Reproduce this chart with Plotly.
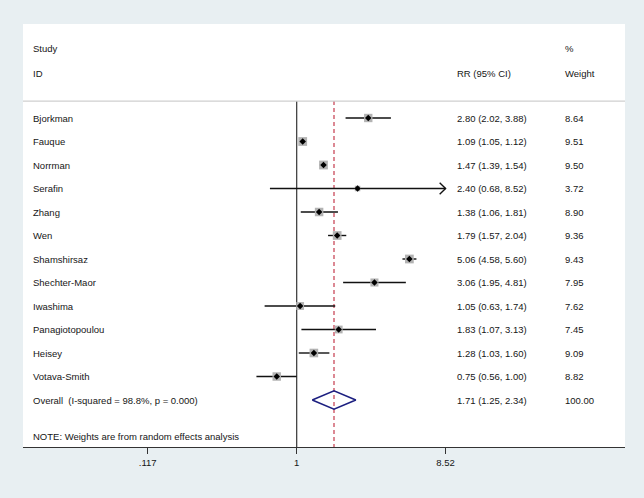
import math
import plotly.graph_objects as go

studies = ["Bjorkman", "Fauque", "Norrman", "Serafin", "Zhang", "Wen", "Shamshirsaz",
           "Shechter-Maor", "Iwashima", "Panagiotopoulou", "Heisey", "Votava-Smith"]
rr = [2.80, 1.09, 1.47, 2.40, 1.38, 1.79, 5.06, 3.06, 1.05, 1.83, 1.28, 0.75]
ci_lo = [2.02, 1.05, 1.39, 0.68, 1.06, 1.57, 4.58, 1.95, 0.63, 1.07, 1.03, 0.56]
ci_hi = [3.88, 1.12, 1.54, 8.52, 1.81, 2.04, 5.60, 4.81, 1.74, 3.13, 1.60, 1.00]
weights = [8.64, 9.51, 9.50, 3.72, 8.90, 9.36, 9.43, 7.95, 7.62, 7.45, 9.09, 8.82]
overall_rr, overall_lo, overall_hi, overall_w = 1.71, 1.25, 2.34, 100.00
overall_label = "Overall  (I-squared = 98.8%, p = 0.000)"
note_text = "NOTE: Weights are from random effects analysis"
tick_vals = [0.117, 1, 8.52]
tick_text = [".117", "1", "8.52"]

FONT = "Liberation Sans, Arial, Helvetica, sans-serif"
FS = 9.5
TXT = "#161616"

n = len(studies)
rows = list(range(n))
overall_row = n
sep_row = -0.72
bottom_row = 14.0
top_row = -4.0

fig = go.Figure()

# vertical null line and overall dashed line
fig.add_trace(go.Scatter(x=[1, 1], y=[sep_row, bottom_row], mode="lines",
                         line=dict(color="#222222", width=1.1), hoverinfo="skip", showlegend=False))
fig.add_trace(go.Scatter(x=[overall_rr, overall_rr], y=[sep_row, bottom_row], mode="lines",
                         line=dict(color="#c0283c", width=1.1, dash="4px,3px"),
                         hoverinfo="skip", showlegend=False))

# CI lines
for i in range(n):
    fig.add_trace(go.Scatter(x=[ci_lo[i], ci_hi[i]], y=[i, i], mode="lines",
                             line=dict(color="#111111", width=1.4), hoverinfo="skip", showlegend=False))
    if ci_hi[i] >= max(tick_vals):
        back = ci_hi[i] * math.exp(-0.085)
        fig.add_trace(go.Scatter(x=[back, ci_hi[i], back], y=[i - 0.24, i, i + 0.24], mode="lines",
                                 line=dict(color="#111111", width=1.4), hoverinfo="skip",
                                 showlegend=False))

# weight boxes
fig.add_trace(go.Scatter(x=rr, y=rows, mode="markers",
                         marker=dict(symbol="square", color="#b3b3b3", opacity=1,
                                     size=[2.85 * math.sqrt(w) for w in weights], line=dict(width=0)),
                         hoverinfo="skip", showlegend=False))

# point estimates
fig.add_trace(go.Scatter(x=rr, y=rows, mode="markers",
                         marker=dict(symbol="diamond", color="#000000", size=5, line=dict(width=0)),
                         hoverinfo="skip", showlegend=False))

# overall diamond
h = 0.39
fig.add_trace(go.Scatter(x=[overall_lo, overall_rr, overall_hi, overall_rr, overall_lo],
                         y=[overall_row, overall_row - h, overall_row, overall_row + h, overall_row],
                         mode="lines", line=dict(color="#1c1f80", width=1.6),
                         hoverinfo="skip", showlegend=False))

# separator line
fig.add_shape(type="line", xref="paper", yref="y", x0=0, x1=1, y0=sep_row, y1=sep_row,
              line=dict(color="#cfcfcf", width=1.2))

X_STUDY = (31 - 23) / 602
X_RR = (454.5 - 23) / 602
X_W = (562.7 - 23) / 602

def txt(x, y, s):
    fig.add_annotation(x=x, y=y, xref="paper", yref="y", text=s, showarrow=False,
                       xanchor="left", yanchor="middle", font=dict(family=FONT, size=FS, color=TXT))

txt(X_STUDY, -2.94, "Study")
txt(X_STUDY, -1.91, "ID")
txt(X_RR, -1.91, "RR (95% CI)")
txt(X_W, -2.94, "%")
txt(X_W, -1.91, "Weight")

for i in range(n):
    txt(X_STUDY, i, studies[i])
    txt(X_RR, i, f"{rr[i]:.2f} ({ci_lo[i]:.2f}, {ci_hi[i]:.2f})")
    txt(X_W, i, f"{weights[i]:.2f}")

txt(X_STUDY, overall_row, overall_label)
txt(X_RR, overall_row, f"{overall_rr:.2f} ({overall_lo:.2f}, {overall_hi:.2f})")
txt(X_W, overall_row, f"{overall_w:.2f}")
txt(X_STUDY, 13.56, note_text)

fig.update_layout(
    width=644, height=498,
    margin=dict(l=23, r=19, t=24, b=51),
    paper_bgcolor="#e8eff2",
    plot_bgcolor="#ffffff",
    font=dict(family=FONT, size=FS, color=TXT),
    xaxis=dict(type="log", range=[-1.711, 2.052], showgrid=False, zeroline=False,
               showline=True, linecolor="#333333", linewidth=1.2,
               ticks="outside", ticklen=6, tickcolor="#333333", tickwidth=1,
               tickvals=tick_vals, ticktext=tick_text,
               tickfont=dict(family=FONT, size=FS, color=TXT)),
    yaxis=dict(range=[bottom_row, top_row], showgrid=False, zeroline=False,
               showline=False, showticklabels=False, ticks=""),
)

fig.write_html("out.html", config={"displayModeBar": False},
               post_script="document.body.style.margin='0';document.body.style.overflow='hidden';")
